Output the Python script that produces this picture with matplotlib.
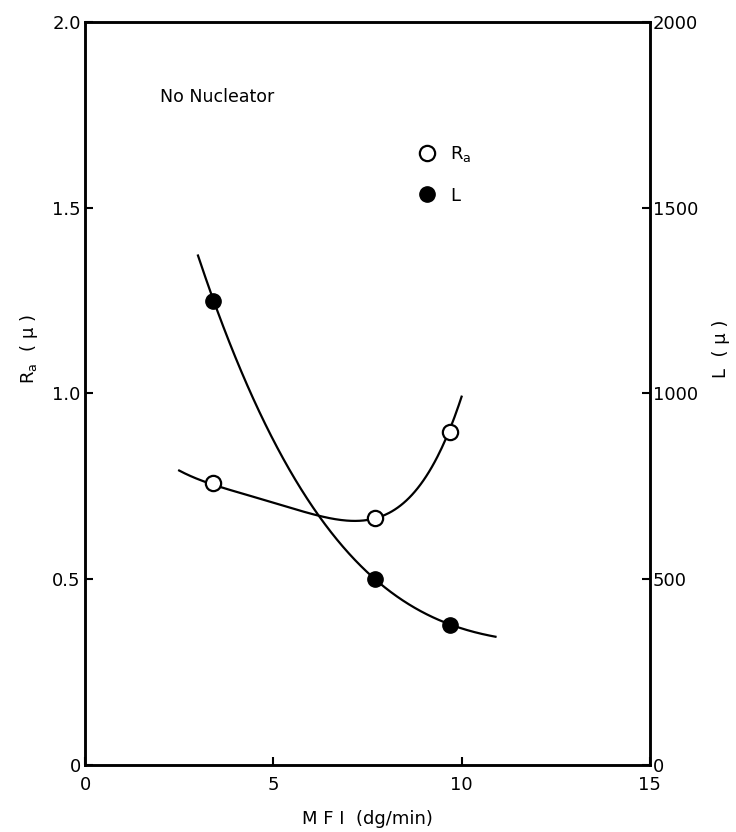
import matplotlib.pyplot as plt
import numpy as np
from matplotlib.lines import Line2D

# measured points
mfi = [3.4, 7.7, 9.7]
ra = [0.76, 0.665, 0.895]          # Ra (micron), left axis
lam = [1250, 500, 376]             # L (micron), right axis

# points
ra_curve_x = [2.5, 3.4, 5.0, 6.0, 7.0, 7.7, 8.5, 9.2, 9.7, 10.0]
ra_curve_y = [0.79, 0.76, 0.70, 0.675, 0.66, 0.665, 0.71, 0.80, 0.895, 1.0]
l_curve_x = [3.0, 3.4, 4.65, 6.2, 7.7, 9.7, 10.9]
l_curve_y = [1375, 1250, 947, 672, 500, 376, 345]

plt.rcParams['font.family'] = 'DejaVu Sans'
plt.rcParams['mathtext.default'] = 'regular'

fig = plt.figure(figsize=(7.36, 8.32), dpi=100)
ax = fig.add_axes([0.1155, 0.0811, 0.7675, 0.892])
ax2 = ax.twinx()

# smooth trend lines through the read points
xr = np.linspace(ra_curve_x[0], ra_curve_x[-1], 200)
pr = np.polyfit(ra_curve_x, ra_curve_y, 4)
ax.plot(xr, np.polyval(pr, xr), color='black', lw=1.6, zorder=2)

xl = np.linspace(l_curve_x[0], l_curve_x[-1], 200)
pl = np.polyfit(l_curve_x, l_curve_y, 3)
ax2.plot(xl, np.polyval(pl, xl), color='black', lw=1.6, zorder=2)

ax.plot(mfi, ra, 'o', ms=11, mfc='white', mec='black', mew=1.6, zorder=3)
ax2.plot(mfi, lam, 'o', ms=11, mfc='black', mec='black', zorder=3)

ax.set_xlim(0, 15)
ax.set_ylim(0, 2.0)
ax2.set_ylim(0, 2000)

ax.set_xticks([0, 5, 10, 15])
ax.set_xticklabels(['0', '5', '10', '15'])
ax.set_yticks([0, 0.5, 1.0, 1.5, 2.0])
ax.set_yticklabels(['0', '0.5', '1.0', '1.5', '2.0'])
ax2.set_yticks([0, 500, 1000, 1500, 2000])

for a in (ax, ax2):
    for s in a.spines.values():
        s.set_linewidth(1.8)
    a.tick_params(direction='in', length=6, width=1.5, labelsize=13, pad=3)
ax.tick_params(axis='x', pad=8)
ax2.tick_params(axis='y', pad=2)

ax.set_xlabel('M F I  (dg/min)', fontsize=13, labelpad=12)
ax.set_ylabel(r'R$_a$  ( μ )', fontsize=13)
ax.yaxis.set_label_coords(-0.08, 0.56)
ax2.set_ylabel('L  ( μ )', fontsize=13, rotation=90)
ax2.yaxis.set_label_coords(1.11, 0.56)

ax.text(2.0, 1.80, 'No Nucleator', fontsize=12.5, va='center')

handles = [
    Line2D([], [], ls='none', marker='o', ms=11, mfc='white', mec='black', mew=1.6),
    Line2D([], [], ls='none', marker='o', ms=11, mfc='black', mec='black'),
]
ax.legend(handles, [r'R$_a$', 'L'], loc='upper left', bbox_to_anchor=(0.573, 0.848),
          frameon=False, handlelength=1.0, handletextpad=0.8, labelspacing=1.25,
          borderpad=0, fontsize=13)

fig.savefig('out.png', dpi=100)
